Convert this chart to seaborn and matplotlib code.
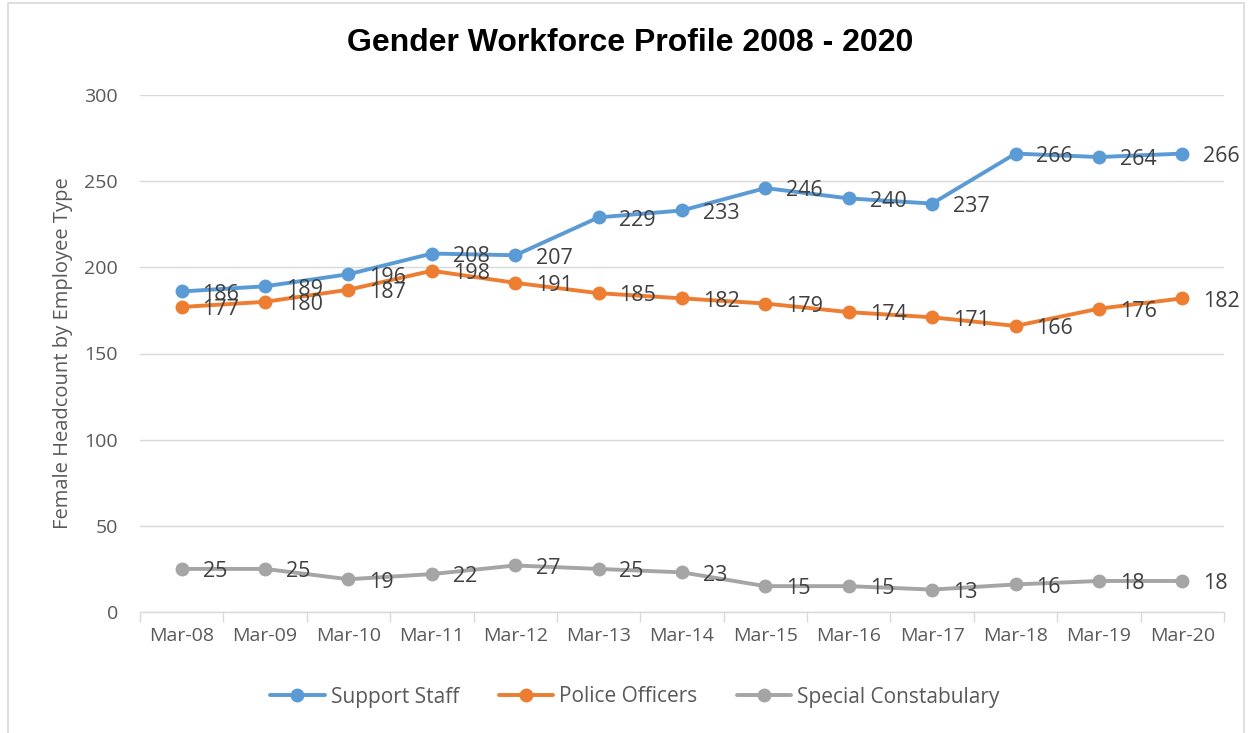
import matplotlib
matplotlib.use("Agg")
import matplotlib.pyplot as plt
import seaborn as sns
import pandas as pd
from matplotlib.patches import Rectangle
from matplotlib.ticker import FixedLocator

months = ["Mar-08", "Mar-09", "Mar-10", "Mar-11", "Mar-12", "Mar-13", "Mar-14",
          "Mar-15", "Mar-16", "Mar-17", "Mar-18", "Mar-19", "Mar-20"]
support_staff = [186, 189, 196, 208, 207, 229, 233, 246, 240, 237, 266, 264, 266]
police_officers = [177, 180, 187, 198, 191, 185, 182, 179, 174, 171, 166, 176, 182]
special_constabulary = [25, 25, 19, 22, 27, 25, 23, 15, 15, 13, 16, 18, 18]

series_names = ["Support Staff", "Police Officers", "Special Constabulary"]
series_values = [support_staff, police_officers, special_constabulary]
colors = ["#5B9BD5", "#ED7D31", "#A5A5A5"]

rows = []
for name, vals in zip(series_names, series_values):
    for m, v in zip(months, vals):
        rows.append({"Month": m, "Headcount": v, "Series": name})
df = pd.DataFrame(rows)

sns.set_theme(style="white")
plt.rcParams["font.family"] = ["Open Sans", "DejaVu Sans"]

fig = plt.figure(figsize=(12.52, 7.33), dpi=100)
ax = fig.add_axes([140 / 1252, 1 - 612 / 733, (1224 - 140) / 1252, (612 - 95) / 733])

sns.lineplot(data=df, x="Month", y="Headcount", hue="Series", hue_order=series_names,
             palette=colors, marker="o", markersize=10, markeredgewidth=0,
             linewidth=2.8, sort=False, ax=ax, legend=True)

# data labels
for vals in series_values:
    for i, v in enumerate(vals):
        ax.annotate(str(v), xy=(i, v), xytext=(15, -2), textcoords="offset points",
                    ha="left", va="center", fontsize=15.5, color="#404040")

ax.set_xlim(-0.5, len(months) - 0.5)
ax.set_ylim(0, 300)
ax.set_yticks(range(0, 301, 50))
ax.yaxis.grid(True, color="#D9D9D9", linewidth=1)
ax.xaxis.grid(False)
for s in ["top", "right", "left"]:
    ax.spines[s].set_visible(False)
ax.spines["bottom"].set_color("#D9D9D9")
ax.spines["bottom"].set_linewidth(1)

ax.xaxis.set_minor_locator(FixedLocator([i - 0.5 for i in range(len(months) + 1)]))
ax.tick_params(axis="x", which="major", length=0, pad=11, labelsize=14, labelcolor="#595959")
ax.tick_params(axis="x", which="minor", length=7, color="#D9D9D9", width=1, bottom=True)
ax.tick_params(axis="y", length=0, pad=16, labelsize=14, labelcolor="#595959")

ax.set_xlabel("")
ax.set_ylabel("Female Headcount by Employee Type", fontsize=14.5, color="#595959")
ax.yaxis.set_label_coords(-0.062, 0.5)

fig.suptitle("Gender Workforce Profile 2008 - 2020", x=630 / 1252, y=1 - 43 / 733,
             va="center", fontsize=23, fontweight="bold", color="black",
             family=["Liberation Sans", "DejaVu Sans"])

handles, labels = ax.get_legend_handles_labels()
ax.legend_.remove()
leg = fig.legend(handles, labels, loc="center", bbox_to_anchor=(635 / 1252, 1 - 697 / 733),
                 ncol=3, frameon=False, fontsize=15, handlelength=2.6,
                 handletextpad=0.3, columnspacing=1.9, labelcolor="#595959")
for h in leg.legend_handles:
    h.set_linewidth(2.8)
    h.set_markersize(10)

fig.patches.append(Rectangle((8 / 1252, -0.02), (1244 - 8) / 1252, 1.02 - 3 / 733,
                             transform=fig.transFigure, fill=False,
                             edgecolor="#D9D9D9", linewidth=1.2))

fig.savefig("out.png", dpi=100, facecolor="white")
